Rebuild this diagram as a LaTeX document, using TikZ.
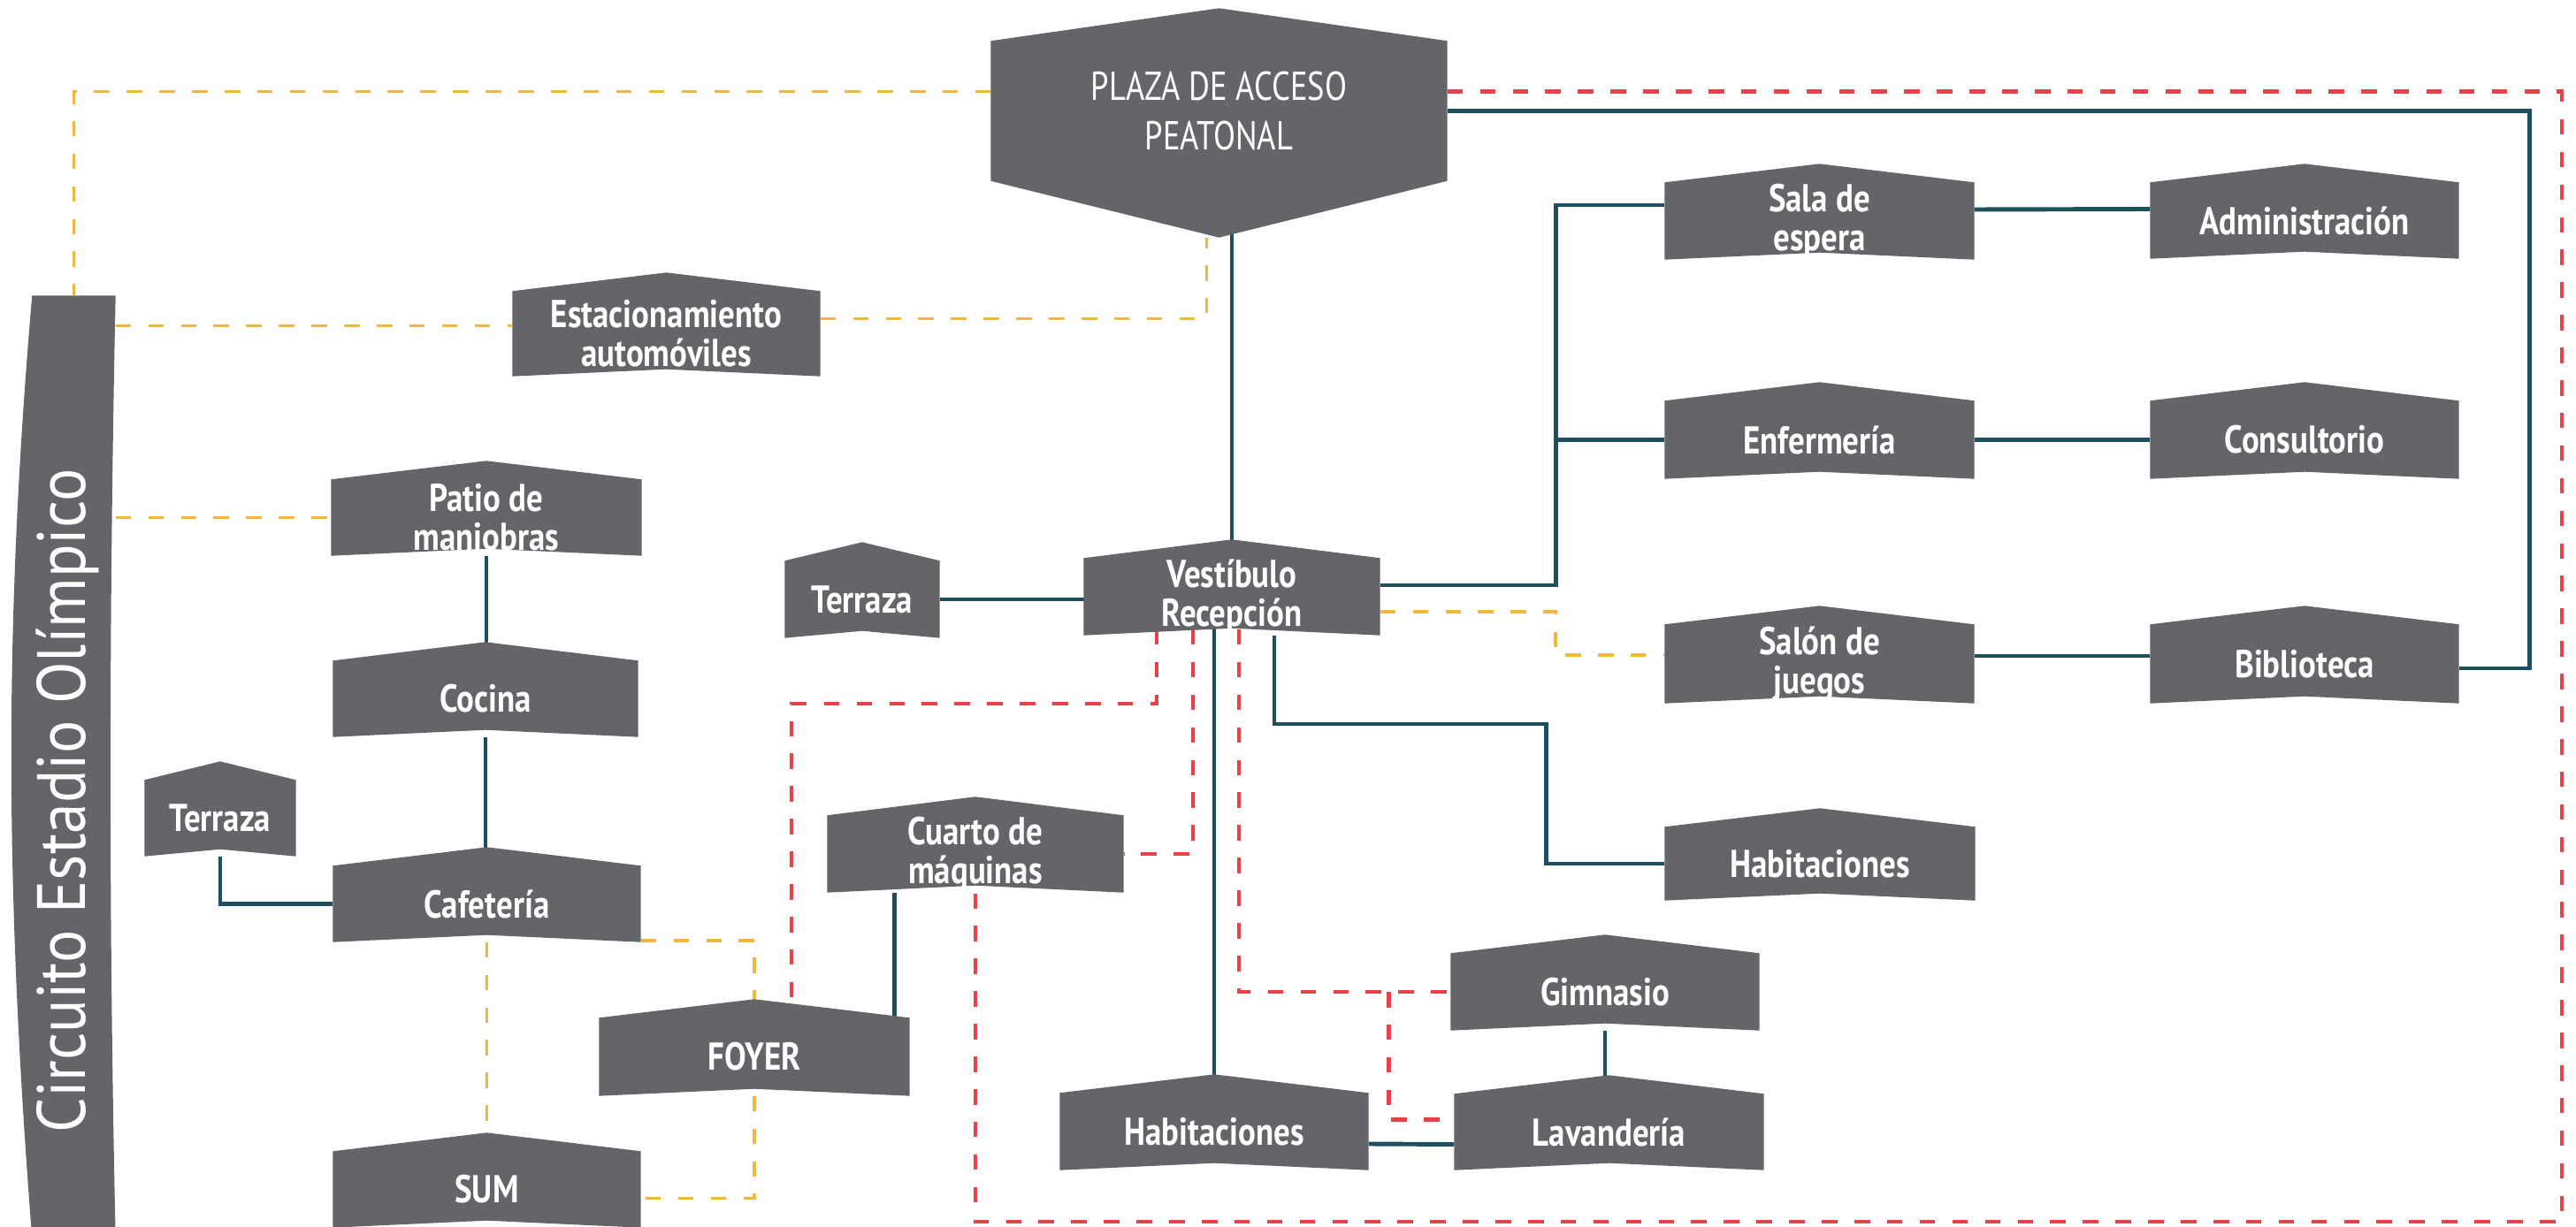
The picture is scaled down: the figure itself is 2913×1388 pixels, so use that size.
\documentclass[tikz,border=0pt]{standalone}
\usepackage{fontspec}
\usetikzlibrary{calc}
\newfontfamily\roomfont{PT Sans}[FakeStretch=0.84]
\newfontfamily\plazafont{PT Sans}[FakeStretch=0.8]
\newfontfamily\bandfont{PT Sans}[FakeStretch=0.9]

\definecolor{roomgray}{HTML}{636569}
\definecolor{tealline}{HTML}{1D4F5D}
\definecolor{yellowline}{HTML}{EFB83D}
\definecolor{redline}{HTML}{E8414A}

\pgfdeclarelayer{links}
\pgfdeclarelayer{boxes}
\pgfsetlayers{links,boxes,main}

\def\peak{21}   % rise of the roof over the box
\def\notch{8}   % rise of the bottom edge

\tikzset{
  room/.style={inner sep=0pt, align=center, text=white,
    font=\roomfont\bfseries\fontsize{12.5pt}{12.5pt}\selectfont},
  teallink/.style={draw=tealline, line width=1.4pt},
  yellowlink/.style={draw=yellowline, line width=1.1pt, dash pattern=on 5pt off 5.5pt},
  redlink/.style={draw=redline, line width=1.3pt, dash pattern=on 5pt off 5.5pt}
}

\begin{document}
\begin{tikzpicture}[x=0.1mm,y=-0.1mm]
  \useasboundingbox (0,0) rectangle (2913,1388);
  % rooms
  \foreach \id/\cx/\cy/\bw/\bh/\txt in {
      estac/753.5/377.5/34.7/9.5/{Estacionamiento\\automóviles},
      patio/550/585.5/35/8.5/{Patio de\\maniobras},
      cocina/549/790.5/34.4/8.5/Cocina,
      terrA/249/925.5/17/8.5/Terraza,
      cafe/550.5/1022.5/34.7/8.5/Cafetería,
      foyer/853/1195.5/35/8.7/FOYER,
      sum/550.5/1345.5/34.7/8.5/SUM,
      terrB/975/678/17.4/8.6/Terraza,
      vest/1393/675/33.4/8.6/{Vestíbulo\\Recepción},
      cuarto/1103/966/33.4/8.6/{Cuarto de\\máquinas},
      sala/2057.5/250/34.9/8.6/{Sala de\\espera},
      admin/2606/249.5/34.8/8.5/Administración,
      enf/2057.5/497.5/34.9/8.7/Enfermería,
      cons/2606/497.5/34.8/8.7/Consultorio,
      salon/2057.5/751/34.9/8.8/{Salón de\\juegos},
      biblio/2606/751/34.8/8.8/Biblioteca,
      habA/2058/977/35/8.2/Habitaciones,
      gym/1815/1122/34.8/8.6/Gimnasio,
      lav/1819.5/1280.5/34.9/8.5/Lavandería,
      habB/1373/1280/34.8/8.6/Habitaciones%
    }{
      \node[room, minimum width=\bw mm, minimum height=\bh mm] (\id) at (\cx,\cy) {\txt};
    }
  \node[room, font=\plazafont\fontsize{13pt}{16pt}\selectfont,
    minimum width=51.5mm, minimum height=15.7mm] (plaza) at (1378.5,125.5)
    {PLAZA DE ACCESO\\PEATONAL};
  \node[inner sep=0pt, minimum width=9.3mm, minimum height=106.5mm] (circ) at (83.5,867.5) {};
  \node[text=white, rotate=90, font=\bandfont\fontsize{22pt}{22pt}\selectfont]
    (circtext) at (76,906) {Circuito Estadio Olímpico};
  \coordinate (plazatip) at ($(plaza.south)+(0,64)$);

  % roofs and fills
  \begin{pgfonlayer}{boxes}
    \foreach \id in {estac,patio,cocina,terrA,cafe,foyer,sum,terrB,vest,cuarto,
                     sala,admin,enf,cons,salon,biblio,habA,gym,lav,habB}{
      \fill[roomgray] (\id.north west) -- ($(\id.north)+(0,-\peak)$) -- (\id.north east)
        -- (\id.south east) -- ($(\id.south)+(0,-\notch)$) -- (\id.south west) -- cycle;
    }
    \fill[roomgray] (plaza.north west) -- ($(plaza.north)+(0,-37)$) -- (plaza.north east)
      -- (plaza.south east) -- (plazatip) -- (plaza.south west) -- cycle;
    \fill[roomgray] (circ.north west) -- (circ.north east)
      .. controls (123,700) and (123,1050) .. (circ.south east)
      -- (circ.south west) .. controls (5,1000) and (5,700) .. cycle;
  \end{pgfonlayer}

  \begin{pgfonlayer}{links}
    \fill[white] (0,0) rectangle (2913,1388);
    % optional links
    \coordinate (estacL) at ($(estac.west)+(0,-9)$);
    \draw[yellowlink] ($(plaza.west)+(0,-22)$) -| (circ.north);
    \draw[yellowlink] (circ.east |- estacL) -- (estacL);
    \draw[yellowlink] (circ.east |- patio.west) -- (patio.west);
    \draw[yellowlink] ($(estac.east)+(0,-17)$) -| ($(plazatip)+(-14,0)$);
    \draw[yellowlink] (cafe) -- (sum);
    \draw[yellowlink] ($(cafe.south east)+(0,-2)$) -| (foyer);
    \draw[yellowlink] (foyer) |- ($(sum.east)+(0,10)$);
    \draw[yellowlink] ($(vest.east)+(0,17)$) -| ($(salon.west)+(-123,-10)$) -- ($(salon.west)+(0,-10)$);
    % direct links
    \coordinate (trunk) at ($(sala.west)+(-123,0)$);
    \coordinate (cq) at ($(cuarto.south west)+(76,0)$);
    \draw[teallink] (vest.north) -- (vest.north |- plaza);
    \draw[teallink] (plaza.east) -| ($(biblio.east)+(80,5)$) -- ($(biblio.east)+(0,5)$);
    \draw[teallink] ($(vest.east)+(0,-13)$) -| ($(trunk)+(0,-18)$) -- ($(sala.west)+(0,-18)$);
    \draw[teallink] (enf.west) -- (enf.west -| trunk);
    \draw[teallink] ($(sala.east)+(0,-13)$) -- ($(admin.west)+(0,-13)$);
    \draw[teallink] (enf) -- (cons);
    \draw[teallink] ($(salon.east)+(0,-9)$) -- ($(biblio.west)+(0,-9)$);
    \draw[teallink] (terrB) -- (terrB -| vest);
    \draw[teallink] ($(vest.south)+(48,0)$) |- ($(habA.west)+(-134,-158)$) |- (habA.west);
    \draw[teallink] (habB) -- (habB |- vest);
    \draw[teallink] ($(habB.east)+(0,14)$) -- ($(lav.west)+(0,14)$);
    \draw[teallink] (gym) -- (gym |- lav);
    \draw[teallink] (patio) -- (patio |- cocina);
    \draw[teallink] (cocina) -- (cocina |- cafe);
    \draw[teallink] (terrA) |- (cafe.west);
    \draw[teallink] (cq) -- (cq |- foyer);
    % service links
    \coordinate (loopSE) at (2897,1382);
    \draw[redlink] ($(plaza.east)+(0,-22)$) -| (loopSE) -| (cuarto);
    \draw[redlink] ($(vest)+(-85,0)$) -- ++(0,121) -| ($(foyer.north)+(42,0)$);
    \draw[redlink] ($(vest)+(-44,0)$) |- (cuarto.east);
    \draw[redlink] ($(vest)+(8,0)$) |- (gym.west);
    \draw[redlink] ($(gym.west)+(-70,0)$) |- ($(lav.west)+(0,-14)$);
  \end{pgfonlayer}
\end{tikzpicture}
\end{document}
